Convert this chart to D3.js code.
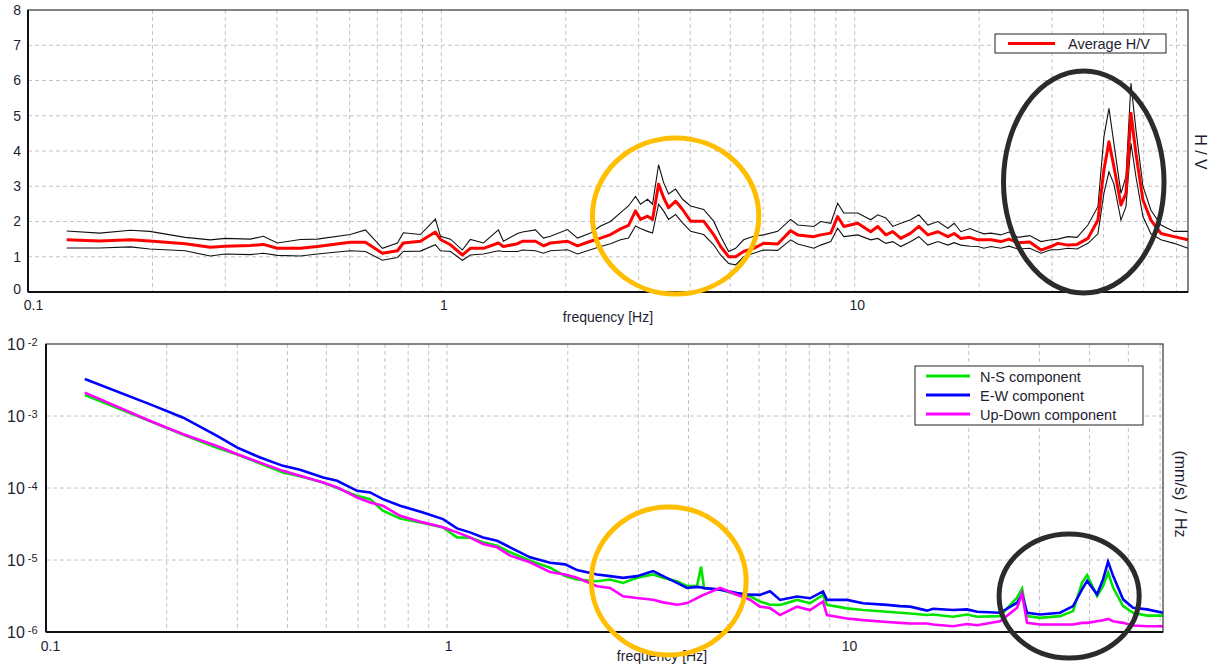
<!DOCTYPE html>
<html>
<head>
<meta charset="utf-8">
<script src="https://cdn.jsdelivr.net/npm/d3@7"></script>
<style>
  body { margin: 0; background: #fff; }
  svg { display: block; font-family: "Liberation Sans", Arial, sans-serif; }
</style>
</head>
<body>
<div id="chart"></div>
<script>
// ---- H/V ratio (top panel) ----
const hvFreq = [
  0.124, 0.149, 0.177, 0.197, 0.240, 0.276, 0.300, 0.345, 0.371, 0.401,
  0.456, 0.501, 0.602, 0.655, 0.720, 0.783, 0.809, 0.890, 0.967, 0.995,
  1.052, 1.124, 1.175, 1.264, 1.374, 1.413, 1.528, 1.571, 1.689, 1.766,
  1.836, 2.019, 2.135, 2.295, 2.427, 2.566, 2.713, 2.836, 2.949, 3.032,
  3.153, 3.242, 3.353, 3.447, 3.545, 3.686, 3.833, 4.008, 4.310, 4.557,
  4.737, 4.953, 5.150, 5.385, 5.694, 6.020, 6.510, 6.998, 7.280, 7.960,
  8.270, 8.750, 9.090, 9.410, 10.17, 10.93, 11.37, 11.89, 12.36, 12.92,
  13.66, 14.29, 15.03, 15.89, 16.80, 17.40, 18.06, 19.00, 19.86, 20.53,
  21.35, 22.57, 23.60, 24.82, 26.50, 28.21, 29.83, 31.00, 32.79, 34.50,
  36.65, 38.75, 40.06, 41.21, 42.37, 44.06, 45.30, 46.58, 47.89, 49.79,
  52.06, 55.05, 59.20, 64.0
];
const hvAverage = [
  1.48, 1.45, 1.48, 1.45, 1.37, 1.27, 1.30, 1.32, 1.35, 1.24,
  1.24, 1.29, 1.41, 1.41, 1.10, 1.17, 1.39, 1.44, 1.70, 1.49,
  1.34, 1.05, 1.24, 1.24, 1.39, 1.29, 1.37, 1.44, 1.44, 1.31,
  1.39, 1.44, 1.31, 1.44, 1.53, 1.63, 1.79, 1.89, 2.30, 2.06,
  2.15, 2.06, 3.06, 2.68, 2.39, 2.58, 2.34, 2.01, 2.01, 1.63,
  1.29, 1.00, 1.00, 1.15, 1.24, 1.38, 1.36, 1.74, 1.62, 1.57,
  1.62, 1.67, 2.14, 1.86, 1.95, 1.71, 1.86, 1.62, 1.71, 1.52,
  1.67, 1.86, 1.62, 1.71, 1.57, 1.66, 1.52, 1.55, 1.48, 1.48,
  1.48, 1.43, 1.50, 1.40, 1.42, 1.19, 1.29, 1.38, 1.33, 1.35,
  1.52, 2.04, 3.46, 4.26, 3.55, 2.47, 2.80, 5.07, 3.93, 2.61,
  2.04, 1.66, 1.57, 1.48
];
const hvUpper = [
  1.73, 1.67, 1.75, 1.72, 1.55, 1.48, 1.52, 1.50, 1.58, 1.39,
  1.49, 1.50, 1.63, 1.76, 1.24, 1.39, 1.68, 1.63, 2.07, 1.58,
  1.50, 1.19, 1.49, 1.39, 1.76, 1.44, 1.66, 1.70, 1.76, 1.53,
  1.58, 1.77, 1.53, 1.67, 1.87, 2.00, 2.25, 2.44, 2.71, 2.49,
  2.63, 2.49, 3.61, 3.11, 2.78, 2.92, 2.63, 2.44, 2.34, 2.01,
  1.58, 1.15, 1.24, 1.48, 1.58, 1.62, 1.72, 2.06, 1.90, 1.86,
  2.00, 1.95, 2.52, 2.24, 2.24, 2.05, 2.19, 2.10, 1.86, 1.95,
  2.05, 2.19, 1.90, 2.00, 1.81, 1.95, 1.71, 1.80, 1.71, 1.65,
  1.67, 1.62, 1.70, 1.55, 1.60, 1.43, 1.48, 1.50, 1.57, 1.55,
  1.90, 2.42, 4.40, 5.21, 4.20, 2.80, 3.27, 5.92, 4.60, 3.00,
  2.32, 1.90, 1.72, 1.72
];
const hvLower = [
  1.25, 1.25, 1.28, 1.22, 1.17, 1.02, 1.08, 1.06, 1.10, 1.04,
  1.02, 1.08, 1.17, 1.15, 0.90, 0.98, 1.15, 1.16, 1.34, 1.17,
  1.15, 0.90, 1.05, 1.08, 1.17, 1.15, 1.15, 1.19, 1.17, 1.10,
  1.17, 1.20, 1.08, 1.20, 1.29, 1.37, 1.48, 1.53, 1.87, 1.80,
  1.72, 1.67, 2.49, 2.30, 2.06, 2.20, 1.96, 1.72, 1.63, 1.34,
  1.05, 0.81, 0.77, 1.00, 1.10, 1.19, 1.18, 1.48, 1.36, 1.24,
  1.33, 1.43, 1.81, 1.57, 1.62, 1.48, 1.52, 1.38, 1.43, 1.29,
  1.43, 1.57, 1.33, 1.43, 1.33, 1.40, 1.33, 1.30, 1.29, 1.24,
  1.29, 1.24, 1.30, 1.22, 1.24, 1.10, 1.20, 1.20, 1.24, 1.22,
  1.38, 1.65, 2.80, 3.41, 3.06, 2.04, 2.42, 4.22, 3.27, 2.14,
  1.65, 1.48, 1.38, 1.24
];

// ---- spectra (bottom panel), (mm/s)/Hz ----
const specFreq = [
  0.125, 0.182, 0.220, 0.267, 0.300, 0.342, 0.390, 0.430, 0.491, 0.532,
  0.597, 0.643, 0.692, 0.764, 0.871, 0.977, 1.059, 1.141, 1.230, 1.333,
  1.436, 1.611, 1.807, 1.970, 2.110, 2.367, 2.550, 2.748, 2.977, 3.265,
  3.458, 3.746, 3.968, 4.202, 4.300, 4.375, 4.796, 5.287, 5.695, 6.030,
  6.390, 6.767, 7.460, 8.040, 8.660, 8.860, 9.940, 10.90, 12.51, 13.48,
  14.28, 15.74, 16.29, 18.27, 19.81, 20.98, 23.93, 26.39, 27.16, 27.95,
  30.11, 33.79, 36.40, 38.33, 39.45, 41.78, 43.25, 44.50, 45.80, 48.50,
  51.35, 55.67, 61.0
];
const nsComponent = [
  1.96e-3, 8.41e-4, 5.50e-4, 3.63e-4, 2.92e-4, 2.19e-4, 1.64e-4, 1.46e-4, 1.19e-4, 1.00e-4,
  7.78e-5, 7.00e-5, 4.83e-5, 3.78e-5, 3.26e-5, 2.84e-5, 2.06e-5, 2.04e-5, 1.76e-5, 1.58e-5,
  1.28e-5, 9.79e-6, 7.82e-6, 5.97e-6, 5.36e-6, 5.08e-6, 5.36e-6, 4.81e-6, 5.65e-6, 6.30e-6,
  5.65e-6, 5.08e-6, 4.33e-6, 4.37e-6, 8.07e-6, 4.09e-6, 3.88e-6, 3.30e-6, 3.13e-6, 2.65e-6,
  2.39e-6, 2.38e-6, 2.79e-6, 2.51e-6, 3.28e-6, 2.38e-6, 2.13e-6, 2.02e-6, 1.91e-6, 1.85e-6,
  1.81e-6, 1.72e-6, 1.75e-6, 1.63e-6, 1.75e-6, 1.63e-6, 1.66e-6, 3.00e-6, 4.01e-6, 1.66e-6,
  1.57e-6, 1.66e-6, 1.95e-6, 4.86e-6, 6.17e-6, 3.16e-6, 4.37e-6, 6.71e-6, 4.14e-6, 2.29e-6,
  1.85e-6, 1.69e-6, 1.69e-6
];
const ewComponent = [
  3.27e-3, 1.45e-3, 9.48e-4, 5.28e-4, 3.64e-4, 2.65e-4, 2.03e-4, 1.79e-4, 1.40e-4, 1.26e-4,
  9.14e-5, 8.67e-5, 7.00e-5, 5.66e-5, 4.58e-5, 3.70e-5, 2.75e-5, 2.42e-5, 2.06e-5, 1.85e-5,
  1.50e-5, 1.09e-5, 9.18e-6, 8.69e-6, 7.24e-6, 6.30e-6, 5.97e-6, 5.65e-6, 5.97e-6, 7.01e-6,
  5.97e-6, 4.81e-6, 4.09e-6, 4.23e-6, 4.17e-6, 4.07e-6, 3.88e-6, 3.48e-6, 3.30e-6, 3.28e-6,
  3.67e-6, 2.79e-6, 3.11e-6, 2.94e-6, 3.66e-6, 2.79e-6, 2.79e-6, 2.51e-6, 2.38e-6, 2.29e-6,
  2.25e-6, 1.98e-6, 2.10e-6, 2.02e-6, 2.06e-6, 1.91e-6, 1.85e-6, 2.55e-6, 3.33e-6, 1.85e-6,
  1.75e-6, 1.85e-6, 2.29e-6, 3.92e-6, 5.13e-6, 3.33e-6, 5.42e-6, 9.48e-6, 6.03e-6, 2.84e-6,
  2.17e-6, 2.06e-6, 1.85e-6
];
const udComponent = [
  2.11e-3, 8.53e-4, 5.57e-4, 3.84e-4, 2.94e-4, 2.25e-4, 1.73e-4, 1.48e-4, 1.19e-4, 1.02e-4,
  7.38e-5, 6.31e-5, 5.66e-5, 4.11e-5, 3.33e-5, 2.84e-5, 2.42e-5, 2.06e-5, 1.67e-5, 1.50e-5,
  1.15e-5, 9.29e-6, 6.79e-6, 6.31e-6, 5.65e-6, 4.33e-6, 4.09e-6, 3.13e-6, 2.96e-6, 2.81e-6,
  2.58e-6, 2.39e-6, 2.52e-6, 2.96e-6, 3.16e-6, 3.30e-6, 4.09e-6, 3.30e-6, 2.81e-6, 2.25e-6,
  2.15e-6, 1.72e-6, 2.25e-6, 2.02e-6, 2.65e-6, 1.72e-6, 1.54e-6, 1.46e-6, 1.38e-6, 1.34e-6,
  1.31e-6, 1.31e-6, 1.27e-6, 1.20e-6, 1.29e-6, 1.24e-6, 1.41e-6, 2.17e-6, 3.40e-6, 1.34e-6,
  1.27e-6, 1.27e-6, 1.27e-6, 1.34e-6, 1.34e-6, 1.41e-6, 1.46e-6, 1.52e-6, 1.41e-6, 1.34e-6,
  1.23e-6, 1.20e-6, 1.20e-6
];

// tick labels
const freqTickValues = [0.1, 1, 10];
const freqTickLabels = ["0.1", "1", "10"];
const hvTicks = [0, 1, 2, 3, 4, 5, 6, 7, 8];
const specTicks = [1e-2, 1e-3, 1e-4, 1e-5, 1e-6];
const specTickExp = ["-2", "-3", "-4", "-5", "-6"];

// legend entries
const specSeries = [
  { name: "N-S component", values: nsComponent, color: "#00e400" },
  { name: "E-W component", values: ewComponent, color: "#0000ff" },
  { name: "Up-Down component", values: udComponent, color: "#ff00ff" }
];

// highlighted areas: [fLeft, fRight], [valueLow, valueHigh]
const hvMarks = [
  { f: [2.32, 5.86], v: [-0.06, 4.37], color: "#ffbe00" },
  { f: [22.9, 56.0], v: [-0.03, 6.27], color: "#2b2b2b" }
];
const specMarks = [
  { f: [2.29, 5.57], v: [4.8e-7, 5.45e-5], color: "#ffbe00" },
  { f: [23.8, 53.2], v: [4.35e-7, 2.3e-5], color: "#2b2b2b" }
];

const width = 1220, height = 669;
const svg = d3.select("#chart").append("svg")
  .attr("width", width)
  .attr("height", height)
  .style("background", "#fff");

const topBox = { left: 28, right: 1188, top: 10, bottom: 292 };
const botBox = { left: 46, right: 1163, top: 344, bottom: 632 };

const xTop = d3.scaleLog().domain([0.1, 64]).range([topBox.left, topBox.right]);
const yTop = d3.scaleLinear().domain([0, 8]).range([topBox.bottom, topBox.top]);
const xBot = d3.scaleLog().domain([0.1, 61]).range([botBox.left, botBox.right]);
const yBot = d3.scaleLog().domain([1e-6, 1e-2]).range([botBox.bottom, botBox.top]);

const textColor = "#1e1e32";
const gridColor = "#c4c4c4";

function drawGrid(box, x, yVals, y) {
  const g = svg.append("g");
  g.selectAll(".vgrid")
    .data(x.ticks().filter(d => x(d) > box.left + 1 && x(d) < box.right - 1))
    .join("line")
    .attr("x1", d => x(d)).attr("x2", d => x(d))
    .attr("y1", box.top).attr("y2", box.bottom)
    .attr("stroke", gridColor).attr("stroke-dasharray", "4,3");
  g.selectAll(".hgrid")
    .data(yVals.filter(d => y(d) > box.top + 1 && y(d) < box.bottom - 1))
    .join("line")
    .attr("x1", box.left).attr("x2", box.right)
    .attr("y1", d => y(d)).attr("y2", d => y(d))
    .attr("stroke", gridColor).attr("stroke-dasharray", "4,3");
}

function drawFrame(box) {
  svg.append("rect")
    .attr("x", box.left).attr("y", box.top)
    .attr("width", box.right - box.left).attr("height", box.bottom - box.top)
    .attr("fill", "none").attr("stroke", "#333").attr("stroke-width", 1.2);
  svg.append("line")
    .attr("x1", box.left).attr("x2", box.left)
    .attr("y1", box.top).attr("y2", box.bottom)
    .attr("stroke", "#111").attr("stroke-width", 2);
  svg.append("line")
    .attr("x1", box.left).attr("x2", box.right)
    .attr("y1", box.bottom).attr("y2", box.bottom)
    .attr("stroke", "#111").attr("stroke-width", 2);
}

// ---------- top panel ----------
drawGrid(topBox, xTop, hvTicks, yTop);

const hvLine = (vals) => d3.line()
  .x((d, i) => xTop(hvFreq[i]))
  .y(d => yTop(d))(vals);

svg.append("path").attr("d", hvLine(hvUpper))
  .attr("fill", "none").attr("stroke", "#111").attr("stroke-width", 1.1);
svg.append("path").attr("d", hvLine(hvLower))
  .attr("fill", "none").attr("stroke", "#111").attr("stroke-width", 1.1);
svg.append("path").attr("d", hvLine(hvAverage))
  .attr("fill", "none").attr("stroke", "#ff0000").attr("stroke-width", 3)
  .attr("stroke-linejoin", "round");

drawFrame(topBox);

// x labels, nudged right like the original (0.1 sits just right of the corner)
svg.append("g")
  .attr("transform", `translate(0,${topBox.bottom})`)
  .call(d3.axisBottom(xTop).tickValues(freqTickValues).tickSize(0).tickPadding(8)
    .tickFormat((d, i) => freqTickLabels[i]))
  .call(g => g.select(".domain").remove())
  .selectAll("text")
  .attr("dx", (d, i) => i === 0 ? 5 : 2)
  .attr("font-size", 14).attr("font-family", "Liberation Sans, Arial").attr("fill", textColor);

svg.append("g")
  .attr("transform", `translate(${topBox.left},0)`)
  .call(d3.axisLeft(yTop).tickValues(hvTicks).tickSize(0).tickPadding(7).tickFormat(d3.format("d")))
  .call(g => g.select(".domain").remove())
  .selectAll("text")
  .attr("dy", (d, i) => i === 0 ? "0.1em" : "0.32em")
  .attr("font-size", 14).attr("font-family", "Liberation Sans, Arial").attr("fill", textColor);

svg.append("text")
  .attr("x", (topBox.left + topBox.right) / 2).attr("y", 322)
  .attr("text-anchor", "middle").attr("font-size", 14).attr("fill", textColor)
  .text("frequency [Hz]");

svg.append("text")
  .attr("transform", "translate(1200,152) rotate(90)")
  .attr("text-anchor", "middle").attr("dominant-baseline", "central")
  .attr("font-size", 16).attr("fill", textColor)
  .text("H / V");

// legend top
const legTop = svg.append("g").attr("transform", "translate(995,34)");
legTop.append("rect").attr("width", 171).attr("height", 19)
  .attr("fill", "#fff").attr("stroke", "#222").attr("stroke-width", 1);
legTop.append("line").attr("x1", 13).attr("x2", 60).attr("y1", 9.5).attr("y2", 9.5)
  .attr("stroke", "#ff0000").attr("stroke-width", 3);
legTop.append("text").attr("x", 73).attr("y", 15).attr("font-size", 14.5)
  .attr("fill", textColor).text("Average H/V");

// ---------- bottom panel ----------
drawGrid(botBox, xBot, specTicks, yBot);

const specLine = d3.line()
  .x((d, i) => xBot(specFreq[i]))
  .y(d => yBot(d));

svg.append("g").selectAll("path")
  .data(specSeries)
  .join("path")
  .attr("d", d => specLine(d.values))
  .attr("fill", "none")
  .attr("stroke", d => d.color)
  .attr("stroke-width", 2.6);

drawFrame(botBox);

svg.append("g")
  .attr("transform", `translate(0,${botBox.bottom})`)
  .call(d3.axisBottom(xBot).tickValues(freqTickValues).tickSize(0).tickPadding(9)
    .tickFormat((d, i) => freqTickLabels[i]))
  .call(g => g.select(".domain").remove())
  .selectAll("text")
  .attr("dx", (d, i) => i === 0 ? 4 : 1)
  .attr("font-size", 14).attr("font-family", "Liberation Sans, Arial").attr("fill", textColor);

const yLab = svg.append("g").selectAll("text")
  .data(specTicks)
  .join("text")
  .attr("x", 7)
  .attr("y", d => yBot(d) + 6)
  .attr("fill", textColor);
yLab.append("tspan").attr("font-size", 16).text("10");
yLab.append("tspan").attr("dx", 3).attr("dy", -4).attr("font-size", 11)
  .text((d, i) => specTickExp[i]);

svg.append("text")
  .attr("x", 662).attr("y", 661)
  .attr("text-anchor", "middle").attr("font-size", 14).attr("fill", textColor)
  .text("frequency [Hz]");

svg.append("text")
  .attr("transform", "translate(1180,494) rotate(90)")
  .attr("text-anchor", "middle").attr("dominant-baseline", "central")
  .attr("font-size", 16).attr("fill", textColor)
  .text("(mm/s)\u00a0\u00a0/ Hz");

// legend bottom
const legBot = svg.append("g").attr("transform", "translate(915,366)");
legBot.append("rect").attr("width", 228).attr("height", 59)
  .attr("fill", "#fff").attr("stroke", "#222").attr("stroke-width", 1);
const legRows = legBot.selectAll("g.row")
  .data(specSeries)
  .join("g")
  .attr("transform", (d, i) => `translate(0,${10 + i * 19})`);
legRows.append("line").attr("x1", 11).attr("x2", 55)
  .attr("stroke", d => d.color).attr("stroke-width", 3);
legRows.append("text").attr("x", 65).attr("y", 5.5).attr("font-size", 14.5)
  .attr("fill", textColor).text(d => d.name);

// ---------- highlight ellipses ----------
function drawMarks(marks, x, y) {
  svg.append("g").selectAll("ellipse")
    .data(marks)
    .join("ellipse")
    .attr("cx", d => (x(d.f[0]) + x(d.f[1])) / 2)
    .attr("cy", d => (y(d.v[0]) + y(d.v[1])) / 2)
    .attr("rx", d => Math.abs(x(d.f[1]) - x(d.f[0])) / 2)
    .attr("ry", d => Math.abs(y(d.v[0]) - y(d.v[1])) / 2)
    .attr("fill", "none")
    .attr("stroke", d => d.color)
    .attr("stroke-width", 5);
}
drawMarks(hvMarks, xTop, yTop);
drawMarks(specMarks, xBot, yBot);
</script>
</body>
</html>
